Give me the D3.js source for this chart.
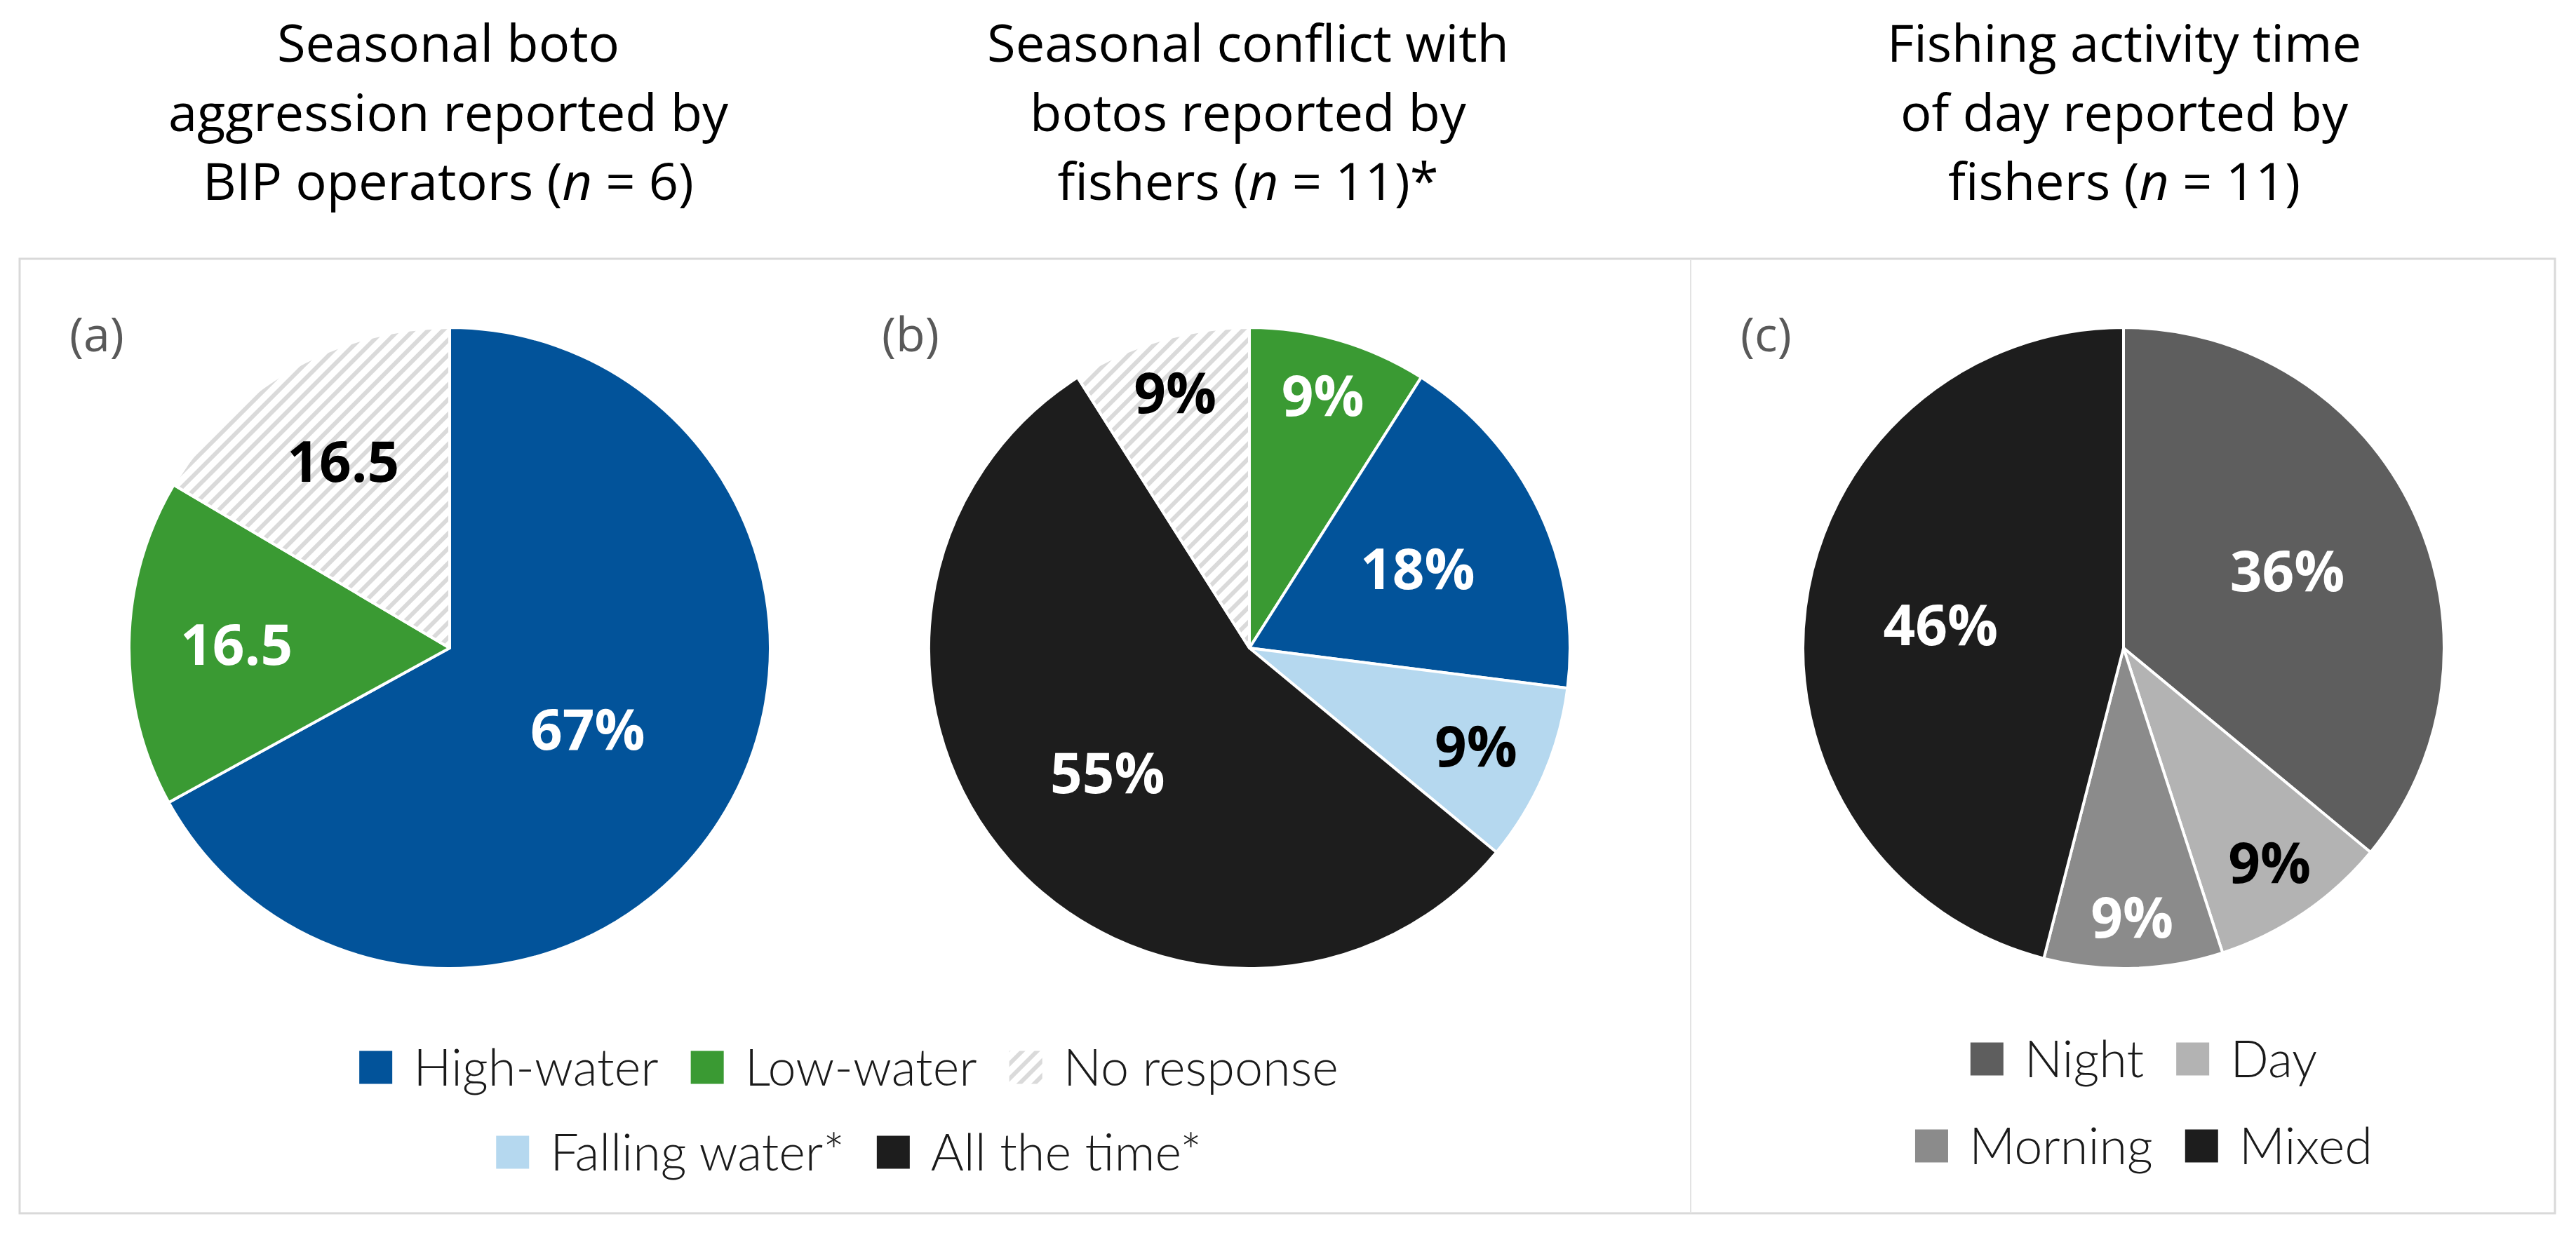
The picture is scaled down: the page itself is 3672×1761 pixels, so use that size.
<!DOCTYPE html>
<html>
<head>
<meta charset="utf-8">
<script src="https://cdn.jsdelivr.net/npm/d3@7"></script>
<style>
  body { margin: 0; background: #fff; }
  svg { display: block; }
</style>
</head>
<body>
<svg id="chart" width="3672" height="1761"></svg>
<script>
// data
const seasonsA = ['High-water', 'Low-water', 'No response'];
const valuesA = [67, 16.5, 16.5];
const labelsA = ['67%', '16.5', '16.5'];

const seasonsB = ['Low-water', 'High-water', 'Falling water*', 'All the time*', 'No response'];
const valuesB = [9, 18, 9, 55, 9];

const timesC = ['Night', 'Day', 'Morning', 'Mixed'];
const valuesC = [36, 9, 9, 46];

const titleA = ['Seasonal boto', 'aggression reported by', 'BIP operators (|n| = 6)'];
const titleB = ['Seasonal conflict with', 'botos reported by', 'fishers (|n| = 11)*'];
const titleC = ['Fishing activity time', 'of day reported by', 'fishers (|n| = 11)'];

const legendRowsAB = [['High-water', 'Low-water', 'No response'], ['Falling water*', 'All the time*']];
const legendRowsC = [['Night', 'Day'], ['Morning', 'Mixed']];

// styles
const fills = {
    'High-water': '#02539a',
    'Low-water': '#3a9a33',
    'No response': 'url(#hatch)',
    'Falling water*': '#b5d8ef',
    'All the time*': '#1d1d1d',
    'Night': '#5e5e5e',
    'Day': '#b3b3b3',
    'Morning': '#8b8b8b',
    'Mixed': '#1d1d1d'
};
const darkText = ['No response', 'Falling water*', 'Day'];

const svg = d3.select('#chart');

// hatch pattern for "No response"
const pat = svg.append('defs').append('pattern')
    .attr('id', 'hatch')
    .attr('patternUnits', 'userSpaceOnUse')
    .attr('width', 15).attr('height', 15)
    .attr('patternTransform', 'rotate(45)');
pat.append('rect').attr('width', 15).attr('height', 15).attr('fill', '#fff');
pat.append('rect').attr('width', 6).attr('height', 15).attr('fill', '#dadada');

// panel frame
svg.append('rect')
    .attr('x', 28).attr('y', 369).attr('width', 3614).attr('height', 1361)
    .attr('fill', 'none').attr('stroke', '#d9d9d9').attr('stroke-width', 3);
svg.append('line')
    .attr('x1', 2410).attr('x2', 2410).attr('y1', 369).attr('y2', 1730)
    .attr('stroke', '#e3e3e3').attr('stroke-width', 2);

function drawTitle(lines, cx) {
    const t = svg.append('text')
        .attr('text-anchor', 'middle')
        .style('font-family', '"Open Sans", sans-serif')
        .style('font-size', '74px')
        .attr('fill', '#000');
    lines.forEach((line, i) => {
        const parts = line.split('|');
        parts.forEach((p, j) => {
            const ts = t.append('tspan').text(p);
            if (j === 0) ts.attr('x', cx).attr('y', 88 + i * 98.5);
            if (j % 2 === 1) ts.style('font-style', 'italic');
        });
    });
}

function drawPie(names, values, labels, cx, letter, letterX, labelRadius) {
    const r = 457;
    const cy = 924;
    const rows = names.map((name, i) => ({ name: name, value: values[i], label: labels[i] }));
    const pie = d3.pie().sort(null).value(d => d.value);
    const arc = d3.arc().innerRadius(0).outerRadius(r);
    const arcs = pie(rows);

    const g = svg.append('g').attr('transform', `translate(${cx},${cy})`);
    g.selectAll('path.slice').data(arcs).enter().append('path')
        .attr('class', 'slice')
        .attr('d', arc)
        .attr('fill', d => fills[d.data.name])
        .attr('stroke', '#fff')
        .attr('stroke-width', 4)
        .attr('stroke-linejoin', 'round');

    g.selectAll('text.lbl').data(arcs).enter().append('text')
        .attr('class', 'lbl')
        .attr('transform', (d, i) => {
            const la = d3.arc().innerRadius(r * labelRadius[i]).outerRadius(r * labelRadius[i]);
            return `translate(${la.centroid(d)})`;
        })
        .attr('text-anchor', 'middle')
        .attr('dy', '0.36em')
        .style('font-family', '"Open Sans", sans-serif')
        .style('font-weight', 700)
        .style('font-size', '80px')
        .attr('fill', d => darkText.includes(d.data.name) ? '#000' : '#fff')
        .text(d => d.data.label);

    svg.append('text')
        .attr('x', letterX).attr('y', 501)
        .style('font-family', '"Open Sans", sans-serif')
        .style('font-size', '68px')
        .attr('fill', '#595959')
        .text(`(${letter})`);
}

function drawLegend(rowsOfNames, cx, rowYs) {
    const sq = 47, gapIn = 30, gapOut = 46;
    rowsOfNames.forEach((row, ri) => {
        const g = svg.append('g');
        let x = 0;
        row.forEach(name => {
            g.append('rect')
                .attr('x', x).attr('y', rowYs[ri] - sq / 2)
                .attr('width', sq).attr('height', sq)
                .attr('fill', fills[name]);
            const t = g.append('text')
                .attr('x', x + sq + gapIn).attr('y', rowYs[ri])
                .attr('dy', '0.36em')
                .style('font-family', 'Lato, "Open Sans", sans-serif')
                .style('font-weight', 300)
                .style('font-size', '72px')
                .attr('fill', '#1a1a1a')
                .text(name);
            x += sq + gapIn + t.node().getComputedTextLength() + gapOut;
        });
        const w = x - gapOut;
        g.attr('transform', `translate(${cx - w / 2},0)`);
    });
}

drawTitle(titleA, 639);
drawTitle(titleB, 1779);
drawTitle(titleC, 3028);

drawPie(seasonsA, valuesA, labelsA, 641, 'a', 99, [0.5, 0.665, 0.67]);
drawPie(seasonsB, valuesB, valuesB.map(v => v + '%'), 1781, 'b', 1257, [0.82, 0.58, 0.77, 0.59, 0.83]);
drawPie(timesC, valuesC, valuesC.map(v => v + '%'), 3027, 'c', 2481, [0.565, 0.81, 0.84, 0.575]);

drawLegend(legendRowsAB, 1210, [1522, 1643]);
drawLegend(legendRowsC, 3056, [1510, 1634]);
</script>
</body>
</html>
